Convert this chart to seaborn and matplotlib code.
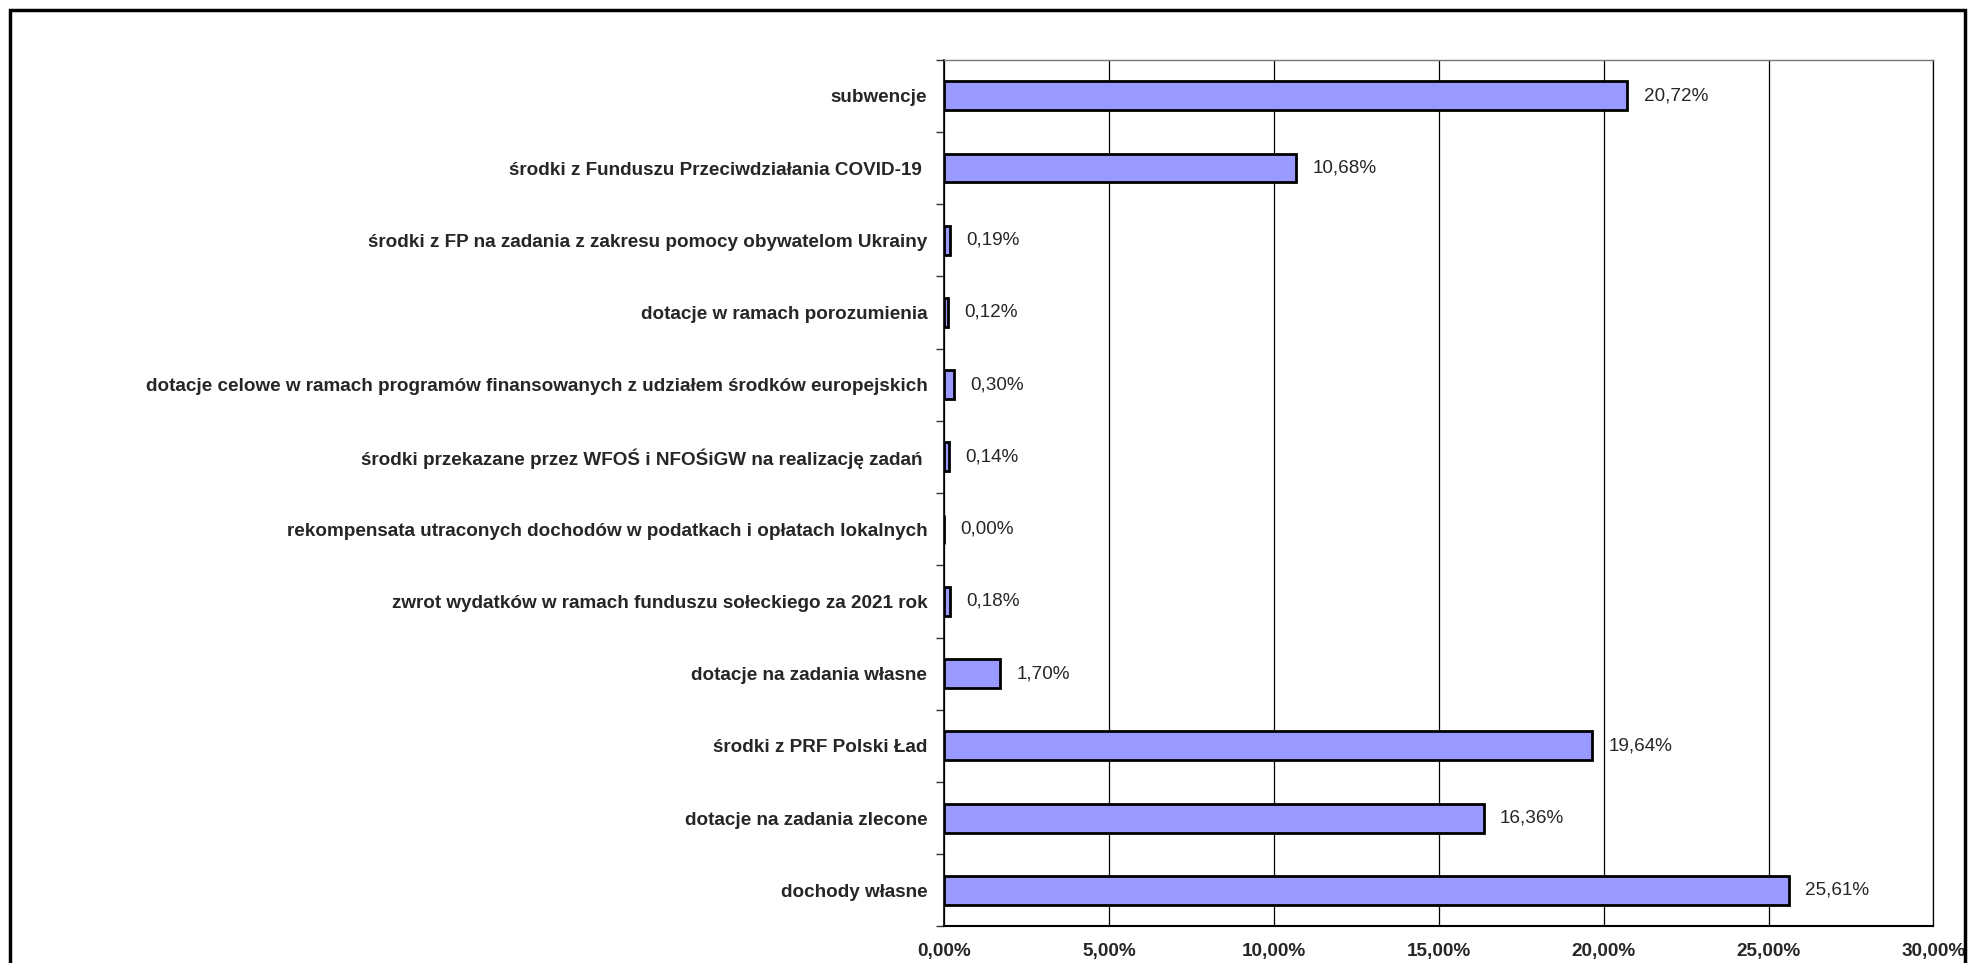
import matplotlib
matplotlib.use('Agg')
import matplotlib.pyplot as plt
import seaborn as sns
import pandas as pd
from matplotlib.patches import Rectangle
from matplotlib.ticker import FixedLocator

categories = [
    'subwencje',
    'środki z Funduszu Przeciwdziałania COVID-19 ',
    'środki z FP na zadania z zakresu pomocy obywatelom Ukrainy',
    'dotacje w ramach porozumienia',
    'dotacje celowe w ramach programów finansowanych z udziałem środków europejskich',
    'środki przekazane przez WFOŚ i NFOŚiGW na realizację zadań ',
    'rekompensata utraconych dochodów w podatkach i opłatach lokalnych',
    'zwrot wydatków w ramach funduszu sołeckiego za 2021 rok',
    'dotacje na zadania własne',
    'środki z PRF Polski Ład',
    'dotacje na zadania zlecone',
    'dochody własne',
]
shares = [20.72, 10.68, 0.19, 0.12, 0.30, 0.14, 0.00, 0.18, 1.70, 19.64, 16.36, 25.61]
x_ticks = [0, 5, 10, 15, 20, 25, 30]

df = pd.DataFrame({'kategoria': categories, 'udzial': shares})

sns.set_style('white')
plt.rcParams['font.family'] = ['Liberation Sans', 'DejaVu Sans']
fs = 13.6

fig = plt.figure(figsize=(19.79, 9.63), dpi=100)
ax = fig.add_axes([0.477, 0.038, 0.500, 0.900])

sns.barplot(data=df, x='udzial', y='kategoria', orient='h', order=categories,
            color='#9999FF', saturation=1, width=0.4,
            edgecolor='black', linewidth=2, ax=ax)

ax.set_xlim(0, 30)
ax.set_ylim(len(categories) - 0.5, -0.5)
ax.set_xticks(x_ticks)
ax.set_xticklabels([f'{t:.2f}%'.replace('.', ',') for t in x_ticks],
                   fontsize=fs, fontweight='bold')
ax.tick_params(axis='x', length=0, pad=12)
ax.tick_params(axis='y', which='major', length=0, pad=12, labelsize=fs)
for lbl in ax.get_yticklabels():
    lbl.set_fontweight('bold')
ax.yaxis.set_minor_locator(FixedLocator([i - 0.5 for i in range(len(categories) + 1)]))
ax.tick_params(axis='y', which='minor', left=True, length=6, width=1,
               color='#333333', direction='out')

ax.set_xlabel('')
ax.set_ylabel('')
ax.grid(axis='x', color='black', linewidth=0.9)
ax.set_axisbelow(True)

ax.spines['left'].set_color('black')
ax.spines['left'].set_linewidth(1.2)
ax.spines['bottom'].set_color('black')
ax.spines['bottom'].set_linewidth(1.5)
ax.spines['top'].set_color('#777777')
ax.spines['top'].set_linewidth(1)
ax.spines['right'].set_color('black')
ax.spines['right'].set_linewidth(0.9)

for i, v in enumerate(shares):
    ax.text(v + 0.5, i, f'{v:.2f}%'.replace('.', ','), va='center', ha='left', fontsize=fs)

fig.patches.append(Rectangle((10 / 1979, -0.05), (1965 - 10) / 1979, 1.05 - 10 / 963,
                             transform=fig.transFigure, fill=False,
                             edgecolor='black', linewidth=2.5))

fig.savefig('out.png', dpi=100)
